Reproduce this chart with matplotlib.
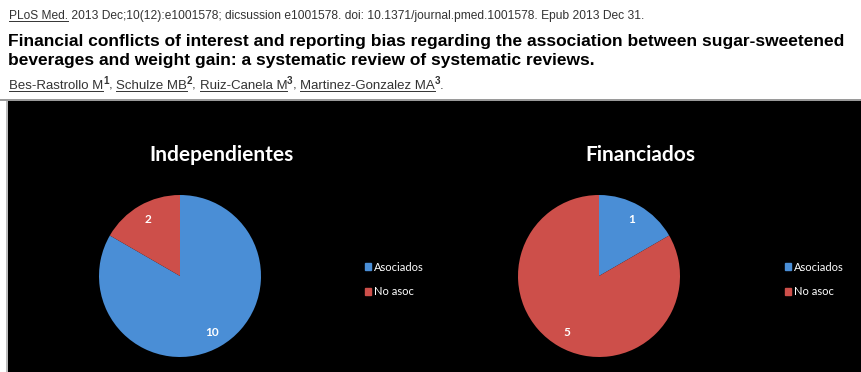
import matplotlib.pyplot as plt
from matplotlib.patches import Rectangle, Patch
from matplotlib.lines import Line2D

W, H = 862, 372

# citation header
journal = "PLoS Med."
citation = " 2013 Dec;10(12):e1001578; dicsussion e1001578. doi: 10.1371/journal.pmed.1001578. Epub 2013 Dec 31."
paper_title = ["Financial conflicts of interest and reporting bias regarding the association between sugar-sweetened",
               "beverages and weight gain: a systematic review of systematic reviews."]
authors = [("Bes-Rastrollo M", "1"), ("Schulze MB", "2"), ("Ruiz-Canela M", "3"), ("Martinez-Gonzalez MA", "3")]

# pie data
categories = ["Asociados", "No asoc"]
independientes = [10, 2]
financiados = [1, 5]
colors = ["#4a8ed6", "#cd4f4a"]

fig = plt.figure(figsize=(W / 100, H / 100), dpi=100)
fig.patch.set_facecolor("white")


def fx(x):
    return x / W


def fy(y):
    return 1 - y / H


renderer = fig.canvas.get_renderer()


def write_run(x, y, pieces, size, color, weight="normal"):
    # pieces: (text, underline, superscript)
    for txt, under, sup in pieces:
        s = size * 0.75 if sup else size
        yy = y - size * 0.55 if sup else y
        t = fig.text(fx(x), fy(yy), txt, fontsize=s, color=color,
                     weight="bold" if sup else weight,
                     family="Liberation Sans", va="baseline", ha="left")
        bb = t.get_window_extent(renderer)
        if under:
            fig.add_artist(Line2D([fx(x), fx(x + bb.width)], [fy(y + 1.5)] * 2,
                                  transform=fig.transFigure, color=color, lw=0.7))
        x += bb.width
    return x


write_run(9, 19, [(journal, True, False), (citation, False, False)], 8.65, "#333333")
for i, line in enumerate(paper_title):
    fig.text(fx(8), fy(46 + i * 19), line, fontsize=12.55, weight="bold",
             family="Liberation Sans", color="black", va="baseline")
pieces = []
for i, (name, sup) in enumerate(authors):
    pieces.append((name, True, False))
    pieces.append((sup, False, True))
    pieces.append((", " if i < len(authors) - 1 else ".", False, False))
write_run(9, 89, pieces, 9.5, "#333333")

# separator and black panel
fig.add_artist(Rectangle((0, fy(101)), 1, 2 / H, transform=fig.transFigure,
                         color="#9a9a9a", lw=0, zorder=-2))
fig.add_artist(Rectangle((fx(6), 0), 1 / W * 2, fy(101), transform=fig.transFigure,
                         color="#bbbbbb", lw=0, zorder=-2))
fig.add_artist(Rectangle((fx(8), 0), 1, fy(101), transform=fig.transFigure,
                         color="black", lw=0, zorder=-1))


def draw_pie(cx, cy, values, title, tx, legend_x):
    r = 81
    ax = fig.add_axes([fx(cx - r), fy(cy + r), 2 * r / W, 2 * r / H])
    ax.set_zorder(5)
    total = sum(values)
    wedges, _, autotexts = ax.pie(values, colors=colors, startangle=90, counterclock=False,
                                  autopct=lambda p: f"{round(p * total / 100)}",
                                  pctdistance=0.8, radius=1,
                                  wedgeprops=dict(linewidth=0))
    for t in autotexts:
        t.set_color("white")
        t.set_fontsize(8.5)
        t.set_weight("bold")
        t.set_family("Lato")
    ax.set_xlim(-1, 1)
    ax.set_ylim(-1, 1)
    ax.set_aspect("equal")
    ax.axis("off")
    fig.text(fx(tx), fy(155), title, fontsize=15, weight="bold", family="Lato",
             color="white", ha="center", va="center", zorder=6)
    handles = [Patch(color=c) for c in colors]
    leg = fig.legend(handles, categories, loc="upper left",
                     bbox_to_anchor=(fx(legend_x), fy(256)), frameon=False,
                     fontsize=8, handlelength=0.55, handleheight=0.55,
                     handletextpad=0.3, labelspacing=1.25, borderpad=0)
    leg.set_zorder(6)
    for t in leg.get_texts():
        t.set_color("white")
        t.set_family("Lato")


draw_pie(180, 276, independientes, "Independientes", 222, 359)
draw_pie(599, 276, financiados, "Financiados", 640, 779)

fig.savefig("out.png", dpi=100, facecolor=fig.get_facecolor())
